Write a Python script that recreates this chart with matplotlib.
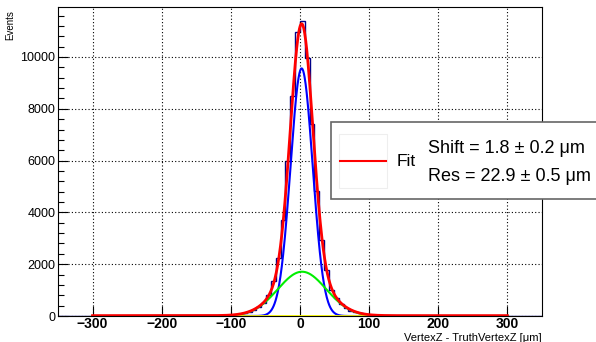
import numpy as np
import matplotlib
matplotlib.use("Agg")
import matplotlib.pyplot as plt
from matplotlib.patches import Rectangle
from matplotlib.lines import Line2D

plt.rcParams['font.family'] = ['Liberation Sans', 'DejaVu Sans']

# histogram: 100 bins of 7 um from -350 to 350
bin_lo, bin_hi, n_bins = -350, 350, 100
left_counts = [10980, 8490, 6000, 3710, 2230, 1350, 810, 520, 340, 230,
               160, 110, 75, 50, 35, 25, 18, 12, 9, 6,
               4, 3, 2, 2, 1, 1, 1, 0, 1, 0]          # [-7,0] going left
right_counts = [11390, 9970, 7410, 4830, 2930, 1780, 1000, 690, 450, 300,
                210, 145, 100, 70, 48, 33, 23, 16, 11, 8,
                6, 4, 3, 2, 2, 1, 1, 1, 0, 1]         # [0,7] going right

# fit components (gaussian amplitude, mean, sigma)
narrow_pars = (9560, 2.4, 16.0)
wide_pars = (1710, 3.0, 35.0)
bkg_level = 15
fit_range = (-300, 300)
bkg_range = (-105, 100)

shift_txt = "Shift = 1.8 \u00b1 0.2 \u03bcm"
res_txt = "Res = 22.9 \u00b1 0.5 \u03bcm"

edges = np.linspace(bin_lo, bin_hi, n_bins + 1)
counts = np.zeros(n_bins)
mid = n_bins // 2
for i, c in enumerate(left_counts):
    counts[mid - 1 - i] = c
for i, c in enumerate(right_counts):
    counts[mid + i] = c


def gaus(x, p):
    a, m, s = p
    return a * np.exp(-0.5 * ((x - m) / s) ** 2)


fig = plt.figure(figsize=(5.96, 3.42), dpi=100)
ax = fig.add_axes([0.0973, 0.076, 0.812, 0.9035])

ax.stairs(counts, edges, color="#000088", linewidth=1.0, baseline=0)

xf = np.linspace(fit_range[0], fit_range[1], 1200)
ax.plot(xf, gaus(xf, narrow_pars), color="#0000ff", linewidth=1.5)
ax.plot(xf, gaus(xf, wide_pars), color="#00ee00", linewidth=1.5)
xb = np.linspace(bkg_range[0], bkg_range[1], 50)
ax.plot(xb, np.full_like(xb, bkg_level), color="#ffff00", linewidth=2)
ax.plot(xf, gaus(xf, narrow_pars) + gaus(xf, wide_pars) + bkg_level,
        color="#ff0000", linewidth=2)

ax.set_xlim(bin_lo, bin_hi)
ax.set_ylim(0, 11930)
ax.set_xticks([-300, -200, -100, 0, 100, 200, 300])
ax.set_xticklabels(["\u2212300", "\u2212200", "\u2212100", "0", "100", "200", "300"],
                   fontweight="bold", fontsize=10)
ax.set_yticks(np.arange(0, 11000, 2000))
ax.set_yticks(np.arange(0, 11930, 400), minor=True)
ax.tick_params(axis="y", labelsize=9)
ax.tick_params(direction="in", length=7, width=0.8, pad=2)
ax.tick_params(axis="x", pad=1)
ax.tick_params(which="minor", direction="in", length=4, width=0.8)
ax.tick_params(axis="x", which="minor", length=0)
ax.grid(True, which="major", color="black", linestyle=(0, (1, 2)), linewidth=0.8)

ax.set_xlabel("VertexZ - TruthVertexZ [\u03bcm]", fontsize=8, loc="right")
ax.xaxis.set_label_coords(1.0, -0.055)
ax.set_ylabel("Events", fontsize=7, loc="top")
ax.yaxis.set_label_coords(-0.088, 0.99)

# legend box
fig.add_artist(Rectangle((0.555, 0.418), 0.447, 0.225, transform=fig.transFigure,
                         facecolor="white", edgecolor="#666666", linewidth=1.2, zorder=5))
fig.add_artist(Rectangle((0.569, 0.450), 0.0805, 0.158, transform=fig.transFigure,
                         facecolor="white", edgecolor="#eeeeee", linewidth=0.8, zorder=6))
fig.add_artist(Line2D([0.571, 0.647], [0.529, 0.529], transform=fig.transFigure,
                      color="#ff0000", linewidth=1.5, zorder=7))
fig.text(0.666, 0.529, "Fit", fontsize=12.5, va="center", ha="left", zorder=7)
fig.text(0.718, 0.567, shift_txt, fontsize=13, va="center", ha="left", zorder=7)
fig.text(0.718, 0.485, res_txt, fontsize=13, va="center", ha="left", zorder=7)

fig.savefig("out.png", dpi=100)
